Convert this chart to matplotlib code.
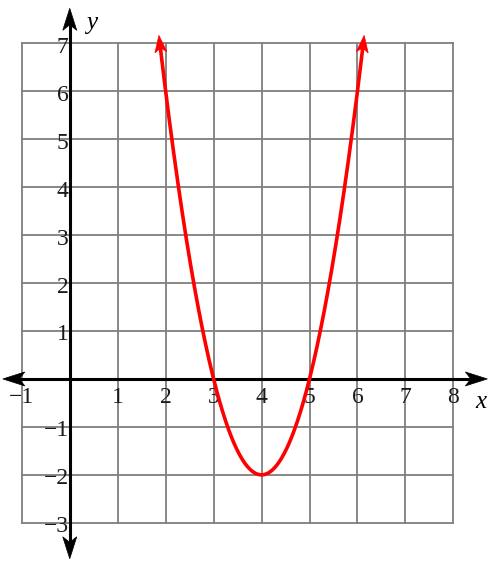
import numpy as np
import matplotlib.pyplot as plt
from matplotlib.patches import Polygon

# parabola y = a(x - h)^2 + k
A_COEF = 2
VERTEX_X = 4
VERTEX_Y = -2
Y_END = 7  # curve drawn up to this height

GRID_X = (-1, 8)
GRID_Y = (-3, 7)
X_TICKS = [-1, 1, 2, 3, 4, 5, 6, 7, 8]
Y_TICKS = [-3, -2, -1, 1, 2, 3, 4, 5, 6, 7]

PX = 47.95  # pixels per unit
X0_PX = 21.8  # pixel column of x = -1
Y7_PX = 43.3  # pixel row of y = 7
W, H = 497, 567

plt.rcParams['font.family'] = ['Liberation Serif', 'DejaVu Serif']


def stealth(ax, tip, direction, length, width, indent, color):
    """Draw a concave arrow head; sizes in pixels."""
    d = np.array(direction, dtype=float)
    d /= np.hypot(*d)
    n = np.array([-d[1], d[0]])
    tip = np.array(tip, dtype=float)
    L, Wd = length / PX, width / PX
    pts = [tip,
           tip - d * L + n * Wd / 2,
           tip - d * L * (1 - indent),
           tip - d * L - n * Wd / 2]
    ax.add_patch(Polygon(pts, closed=True, facecolor=color, edgecolor=color,
                         lw=0.5, zorder=6))


fig = plt.figure(figsize=(W / 100, H / 100), dpi=100)
ax = fig.add_axes([0, 0, 1, 1])
ax.set_xlim(GRID_X[0] - X0_PX / PX, GRID_X[0] + (W - X0_PX) / PX)
ax.set_ylim(GRID_Y[1] - (H - Y7_PX) / PX, GRID_Y[1] + Y7_PX / PX)
ax.axis('off')

# grid
grid_col = '#7f7f7f'
for gx in range(GRID_X[0], GRID_X[1] + 1):
    ax.plot([gx, gx], GRID_Y, color=grid_col, lw=1.3, zorder=1)
for gy in range(GRID_Y[0], GRID_Y[1] + 1):
    ax.plot(GRID_X, [gy, gy], color=grid_col, lw=1.3, zorder=1)

# axes with arrows
x_left = GRID_X[0] - 19 / PX
x_right = GRID_X[1] + 34 / PX
y_top = GRID_Y[1] + 35 / PX
y_bot = GRID_Y[0] - 36 / PX
ax.plot([x_left + 10 / PX, x_right - 10 / PX], [0, 0], color='black', lw=2.2, zorder=4)
ax.plot([0, 0], [y_bot + 10 / PX, y_top - 10 / PX], color='black', lw=2.2, zorder=4)
stealth(ax, (x_right, 0), (1, 0), 22, 14, 0.25, 'black')
stealth(ax, (x_left, 0), (-1, 0), 22, 14, 0.25, 'black')
stealth(ax, (0, y_top), (0, 1), 22, 14, 0.25, 'black')
stealth(ax, (0, y_bot), (0, -1), 22, 14, 0.25, 'black')

# tick labels
for t in X_TICKS:
    ax.text(t, -8 / PX, str(t).replace('-', '\u2212'), ha='center', va='top',
            fontsize=17, color='#1a1a1a', zorder=5)
for t in Y_TICKS:
    ax.text(-1 / PX, t - 4 / PX, str(t).replace('-', '\u2212'), ha='right',
            va='center', fontsize=17, color='#1a1a1a', zorder=5)

ax.text(GRID_X[1] + 28 / PX, -23 / PX, 'x', fontsize=18, style='italic',
        ha='center', va='center', zorder=5)
ax.text(22 / PX, GRID_Y[1] + 20 / PX, 'y', fontsize=18, style='italic',
        ha='center', va='center', zorder=5)

# parabola
half = np.sqrt((Y_END - VERTEX_Y) / A_COEF)
xs = np.linspace(VERTEX_X - half, VERTEX_X + half, 400)
ys = A_COEF * (xs - VERTEX_X) ** 2 + VERTEX_Y
ax.plot(xs, ys, color='#ff0000', lw=2.6, zorder=5, solid_capstyle='butt')
for xe in (xs[0], xs[-1]):
    slope = 2 * A_COEF * (xe - VERTEX_X)
    d = np.array([1.0, slope]) if slope > 0 else np.array([-1.0, -slope])
    d /= np.hypot(*d)
    tip = np.array([xe, Y_END]) + d * 8 / PX
    stealth(ax, tip, d, 17, 12, 0.25, '#ff0000')

fig.savefig('out.png', dpi=100)
